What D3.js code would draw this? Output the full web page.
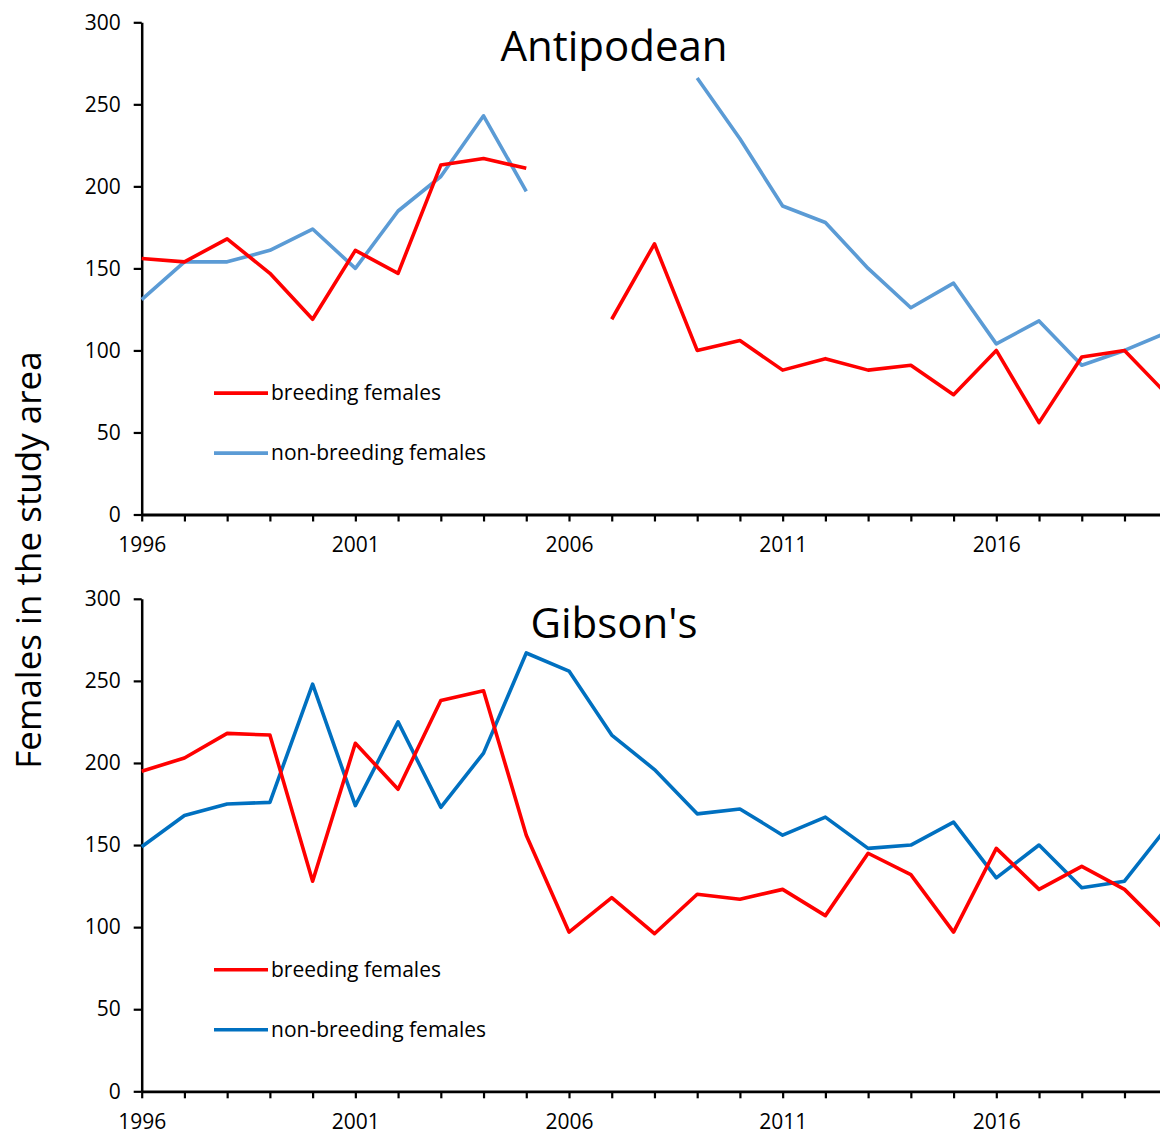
<!DOCTYPE html>
<html>
<head>
<meta charset="utf-8">
<script src="https://cdn.jsdelivr.net/npm/d3@7"></script>
<style>
  html, body { margin: 0; padding: 0; background: #fff; }
  svg { display: block; font-family: "Open Sans", "Noto Sans", sans-serif; }
</style>
</head>
<body>
<svg id="chart" width="1160" height="1133"></svg>
<script>
// Survey years and yearly counts of females (null = no survey that year)
const years = d3.range(1996, 2021);

const antipodeanBreeding = [156, 154, 168, 147, 119, 161, 147, 213, 217, 211,
  null, 119, 165, 100, 106, 88, 95, 88, 91, 73, 100, 56, 96, 100, 73];
const antipodeanNonBreeding = [131, 154, 154, 161, 174, 150, 185, 206, 243, 197,
  null, null, null, 266, 229, 188, 178, 150, 126, 141, 104, 118, 91, 100, 111];

const gibsonsBreeding = [195, 203, 218, 217, 128, 212, 184, 238, 244, 156,
  97, 118, 96, 120, 117, 123, 107, 145, 132, 97, 148, 123, 137, 123, 97];
const gibsonsNonBreeding = [149, 168, 175, 176, 248, 174, 225, 173, 206, 267,
  256, 217, 196, 169, 172, 156, 167, 148, 150, 164, 130, 150, 124, 128, 161];

const yTicks = [0, 50, 100, 150, 200, 250, 300];
const xLabelYears = [1996, 2001, 2006, 2011, 2016];
const seriesNames = ["breeding females", "non-breeding females"];

const panels = [
  { title: "Antipodean", breeding: antipodeanBreeding, nonBreeding: antipodeanNonBreeding,
    nonBreedingColor: "#5B9BD5", top: 22.3, bottom: 514.5 },
  { title: "Gibson's", breeding: gibsonsBreeding, nonBreeding: gibsonsNonBreeding,
    nonBreedingColor: "#0070C0", top: 598.8, bottom: 1091.3 }
];

const svg = d3.select("#chart");
const axisX = 141.7;
const pxPerYear = 42.73;

// The plot continues past the right edge of the page; 2020 falls just outside
const x = d3.scaleLinear()
  .domain([1996, 2020])
  .range([axisX, axisX + 24 * pxPerYear]);

panels.forEach(p => {
  const y = d3.scaleLinear().domain([0, 300]).range([p.bottom, p.top]);
  const g = svg.append("g");

  // y axis
  const yAxis = g.append("g")
    .attr("transform", `translate(${axisX},0)`)
    .call(d3.axisLeft(y).tickValues(yTicks).tickSize(8).tickSizeOuter(0).tickPadding(13));
  yAxis.select(".domain").attr("stroke", "#000").attr("stroke-width", 2.5);
  yAxis.selectAll(".tick line").attr("stroke", "#000").attr("stroke-width", 2.2);
  yAxis.selectAll(".tick text").attr("font-size", 21).attr("fill", "#000")
    .attr("font-family", "'Open Sans', sans-serif");

  // x axis: a tick every year, labels every five years
  const xAxis = g.append("g")
    .attr("transform", `translate(0,${p.bottom})`)
    .call(d3.axisBottom(x)
      .tickValues(years.concat([2021]))
      .tickFormat(d => xLabelYears.includes(d) ? String(d) : "")
      .tickSize(7).tickSizeOuter(0).tickPadding(16));
  xAxis.select(".domain").attr("stroke", "#000").attr("stroke-width", 2.8);
  xAxis.selectAll(".tick line").attr("stroke", "#000").attr("stroke-width", 2.2);
  xAxis.selectAll(".tick text").attr("font-size", 21).attr("fill", "#000")
    .attr("font-family", "'Open Sans', sans-serif");

  // title
  g.append("text")
    .attr("x", 614)
    .attr("y", p.top + 39)
    .attr("text-anchor", "middle")
    .attr("font-size", 42)
    .attr("fill", "#000")
    .text(p.title);

  const line = values => d3.line()
    .defined((d, i) => values[i] !== null)
    .x((d, i) => x(years[i]))
    .y((d, i) => y(values[i]))(values);

  const series = [
    { values: p.breeding, color: "#FF0000" },
    { values: p.nonBreeding, color: p.nonBreedingColor }
  ];

  // non-breeding drawn first, breeding on top
  [series[1], series[0]].forEach(s => {
    g.append("path")
      .attr("d", line(s.values))
      .attr("fill", "none")
      .attr("stroke", s.color)
      .attr("stroke-width", 3.6)
      .attr("stroke-linejoin", "round");
  });

  // legend
  series.forEach((s, i) => {
    const ly = y(74) + i * 60;
    g.append("line")
      .attr("x1", 214).attr("x2", 268)
      .attr("y1", ly).attr("y2", ly)
      .attr("stroke", s.color).attr("stroke-width", 3.6);
    g.append("text")
      .attr("x", 271).attr("y", ly + 7)
      .attr("font-size", 21)
      .attr("fill", "#000")
      .text(seriesNames[i]);
  });
});

// shared y-axis title
svg.append("text")
  .attr("transform", "translate(41,560) rotate(-90)")
  .attr("text-anchor", "middle")
  .attr("font-size", 35)
  .attr("fill", "#000")
  .text("Females in the study area");
</script>
</body>
</html>
